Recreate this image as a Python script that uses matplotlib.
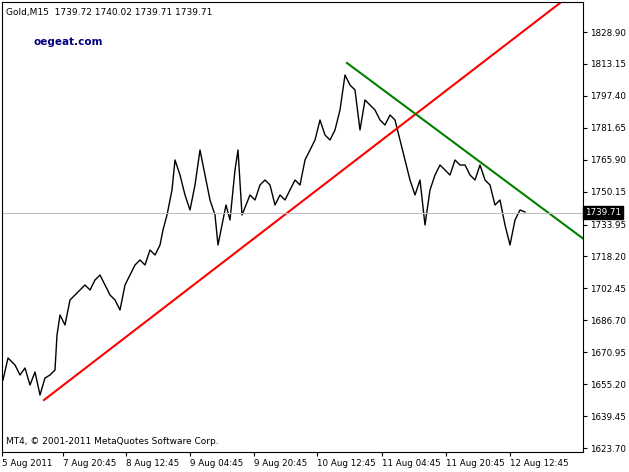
import matplotlib
matplotlib.use("Agg")
import matplotlib.pyplot as plt
from matplotlib.transforms import ScaledTranslation

# price path (bar position, price)
bar_x = [3,8,15,20,25,30,35,40,45,50,55,57,60,65,70,75,80,85,90,95,100,105,110,115,120,125,130,135,140,145,150,155,160,163,167,172,175,180,185,190,195,200,205,210,215,218,222,226,230,235,238,242,246,250,255,260,265,270,275,280,285,290,295,300,305,310,315,320,325,330,335,340,345,350,355,360,365,370,375,380,385,390,395,400,405,410,415,420,425,430,435,440,445,450,455,460,465,470,475,480,485,490,495,500,505,510,515,520,525]
bar_y = [380,358,365,375,368,385,372,395,378,375,370,335,315,325,300,295,290,285,290,280,275,285,295,300,310,285,275,265,260,265,250,255,245,230,215,190,160,175,195,210,185,150,175,200,215,245,225,205,220,170,150,215,205,195,200,185,180,185,205,195,200,190,180,185,160,150,140,120,135,140,130,110,75,85,90,130,100,105,110,120,125,115,120,140,160,180,195,180,225,190,175,165,170,175,160,165,165,175,180,165,180,185,205,200,225,245,220,210,212]
price = [1623.70 + (448 - y) * 0.4933 for y in bar_y]

yticks = [1623.70,1639.45,1655.20,1670.95,1686.70,1702.45,1718.20,1733.95,1750.15,1765.90,1781.65,1797.40,1813.15,1828.90]
xtick_pos = [2,63,126,190,254,317,382,446,510]
xtick_labels = ["5 Aug 2011","7 Aug 20:45","8 Aug 12:45","9 Aug 04:45","9 Aug 20:45","10 Aug 12:45","11 Aug 04:45","11 Aug 20:45","12 Aug 12:45"]
red_line = ([44,560],[1623.70+(448-400)*0.4933,1623.70+(448-3)*0.4933])
green_line = ([347,585],[1623.70+(448-63)*0.4933,1623.70+(448-240)*0.4933])
last_price = 1739.71

def py(y): return 1623.70 + (448 - y) * 0.4933

fig = plt.figure(figsize=(6.29,4.72), dpi=100, facecolor="white")
ax = fig.add_axes([2/629, 20/472, 581/629, 450/472])
ax.set_xlim(2, 583)
ax.set_ylim(py(452), py(2))
ax.plot(bar_x, price, color="black", lw=1)
ax.plot(*red_line, color="red", lw=1.5)
ax.plot(*green_line, color="green", lw=1.5)
ax.axhline(last_price, color="#c0c0c0", lw=0.8)
ax.yaxis.tick_right()
ax.set_yticks(yticks)
ax.set_yticklabels([f"{v:.2f}" for v in yticks], fontsize=6.3)
ax.set_xticks(xtick_pos)
ax.set_xticklabels(xtick_labels, fontsize=6.3, ha="left")
off = ScaledTranslation(1/100, 0, fig.dpi_scale_trans)
for lbl in ax.get_xticklabels():
    lbl.set_transform(lbl.get_transform() + off)
ax.tick_params(length=3, width=0.8, pad=2)
for s in ax.spines.values():
    s.set_color("black"); s.set_linewidth(0.8)
ax.text(585, last_price, "1739.71", transform=ax.transData, fontsize=6.3, color="white",
        ha="left", va="center", bbox=dict(facecolor="black", edgecolor="black", pad=1.5), clip_on=False)
ax.text(4/581, 1 - 10/450, "Gold,M15  1739.72 1740.02 1739.71 1739.71", transform=ax.transAxes, fontsize=6.5, va="center")
ax.text(32/581, 1 - 40/450, "oegeat.com", transform=ax.transAxes, fontsize=7.5, color="#000080", weight="bold", va="center")
ax.text(4/581, 6/450, "MT4, © 2001-2011 MetaQuotes Software Corp.", transform=ax.transAxes, fontsize=6.5, va="bottom")
fig.savefig("out.png", dpi=100, facecolor="white")
